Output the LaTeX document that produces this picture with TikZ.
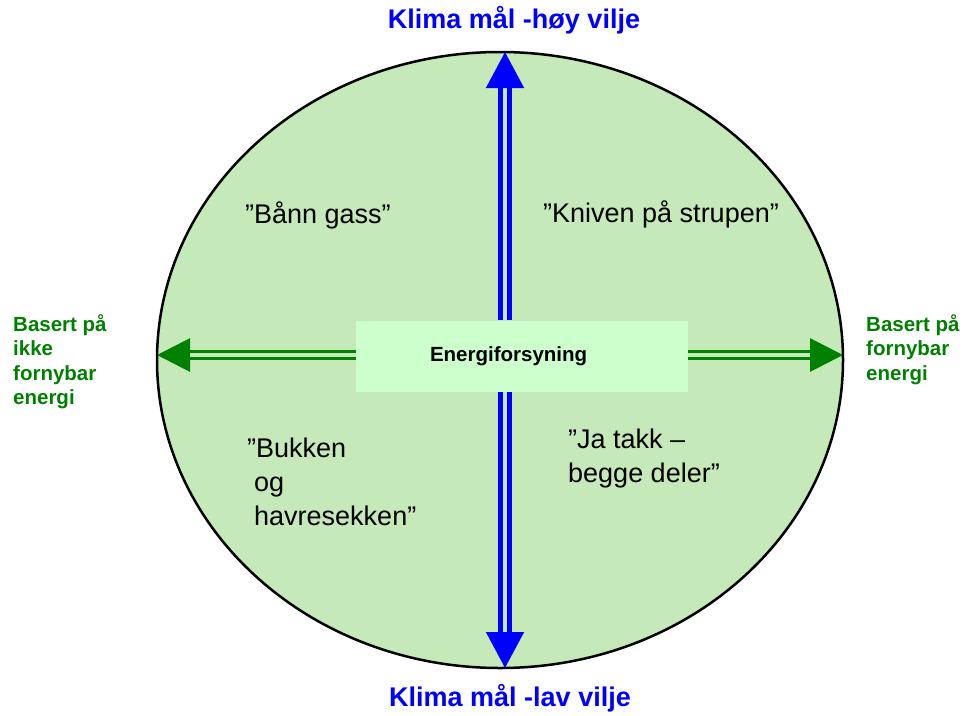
\documentclass[tikz,border=0pt]{standalone}
\usepackage{fontspec}
\setmainfont{Liberation Sans}
\usetikzlibrary{positioning}
\usetikzlibrary{arrows.meta}

\definecolor{ovalgreen}{RGB}{197,233,185}
\definecolor{boxgreen}{RGB}{204,255,204}
\definecolor{labelgreen}{RGB}{0,128,0}
\definecolor{axisblue}{RGB}{0,0,255}

\tikzset{
    klimaarrow/.style={draw=axisblue, line width=5pt, double=ovalgreen, double distance=4pt,
        -{Triangle[length=36pt,width=37pt]}},
    energiarrow/.style={draw=labelgreen, line width=3pt, double=ovalgreen, double distance=4pt,
        -{Triangle[length=33pt,width=33pt]}},
    quadtext/.style={font=\fontsize{27}{34}\selectfont, align=left, anchor=north west, inner sep=0pt},
    sidetext/.style={font=\fontsize{20.5}{24.5}\selectfont\bfseries, text=labelgreen, align=left, anchor=north west, inner sep=0pt},
    titletext/.style={font=\fontsize{27}{32}\selectfont\bfseries, text=axisblue, inner sep=0pt}
}

\begin{document}
\begin{tikzpicture}[x=1pt, y=-1pt]
    \useasboundingbox (0,0) rectangle (965,715);

    % oval
    \draw[fill=ovalgreen, line width=2.5pt] (500,360) ellipse [x radius=343, y radius=308];

    \node[fill=boxgreen, text width=332pt, minimum height=71pt, inner sep=0pt, align=left,
        font=\fontsize{20.5}{24}\selectfont\bfseries] (energi) at (522,356) {\hspace*{74pt}Energiforsyning};

    \coordinate (top) at (505,52);
    \coordinate (bottom) at (505,668);
    \coordinate (left) at (157,355);
    \coordinate (right) at (843,355);

    \draw[klimaarrow] (top |- energi.north) -- (top);
    \draw[klimaarrow] (bottom |- energi.south) -- (bottom);
    \draw[energiarrow] (energi.west |- left) -- (left);
    \draw[energiarrow] (energi.east |- right) -- (right);

    \node[titletext] (hoy) at (514,20) {Klima mål -høy vilje};
    \node[titletext] (lav) at (510,698) {Klima mål -lav vilje};

    \node[quadtext] (bann) at (245,202) {”Bånn gass”};
    \node[quadtext] (kniven) at (543,201) {”Kniven på strupen”};
    \node[quadtext] (bukken) at (247,438) {”Bukken\\\hspace*{7pt}og\\\hspace*{7pt}havresekken”};
    \node[quadtext] (jatakk) at (568,429) {”Ja takk –\\begge deler”};

    \node[sidetext] (ikkefornybar) at (13,314) {Basert på\\ikke\\fornybar\\energi};
    \node[sidetext] (fornybar) at (866,314) {Basert på\\fornybar\\energi};
\end{tikzpicture}
\end{document}
